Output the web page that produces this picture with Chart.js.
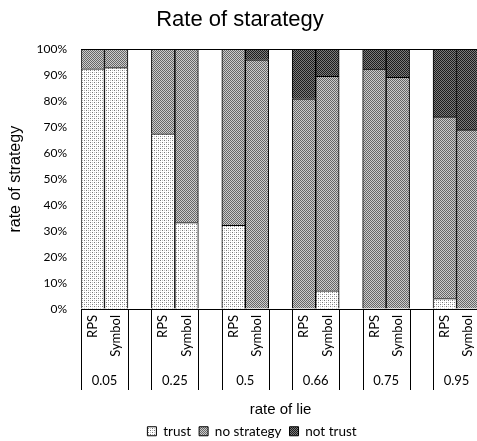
<!DOCTYPE html>
<html>
<head>
<meta charset="utf-8">
<script src="https://cdn.jsdelivr.net/npm/chart.js@4.4.1/dist/chart.umd.min.js"></script>
<style>
  html, body { margin: 0; padding: 0; background: #fff; overflow: hidden; }
  #wrap { width: 481px; height: 441px; }
</style>
</head>
<body>
<div id="wrap"><canvas id="strategyChart" width="481" height="441"></canvas></div>
<script>
// du lieu doc tu hinh
const rateOfLie = ["0.05", "0.25", "0.5", "0.66", "0.75", "0.95"];
const methods = ["RPS", "Symbol"];
// thu tu: RPS, Symbol cho moi muc rate of lie
const trustRate = [92.5, 93, 67.5, 33.3, 32.2, 0, 0, 7, 0, 0, 4, 0];
const noStrategyRate = [7.5, 7, 32.5, 66.7, 67.8, 96, 81, 82.6, 92.4, 89.2, 70, 69];
const notTrustRate = [0, 0, 0, 0, 0, 4, 19, 10.4, 7.6, 10.8, 26, 31];
const yTicks = [0, 10, 20, 30, 40, 50, 60, 70, 80, 90, 100];

// moi nhom: RPS, Symbol, roi mot cot trong (tru nhom cuoi)
const slotLabels = [];
const slotIndex = [];
rateOfLie.forEach((r, g) => {
  methods.forEach((m, k) => {
    slotLabels.push(m);
    slotIndex.push(g * 2 + k);
  });
  if (g < rateOfLie.length - 1) {
    slotLabels.push("");
    slotIndex.push(null);
  }
});
const toSlots = (arr) => slotIndex.map((i) => (i === null ? null : arr[i]));

// hoa van kieu Excel
function makePattern(bg, dots) {
  const c = document.createElement("canvas");
  c.width = 4;
  c.height = 4;
  const g = c.getContext("2d");
  g.fillStyle = bg;
  g.fillRect(0, 0, 4, 4);
  dots.forEach(([x, y, col]) => {
    g.fillStyle = col;
    g.fillRect(x, y, 1, 1);
  });
  return g.createPattern(c, "repeat");
}
const checker = (col) => [
  [0, 0, col], [2, 0, col], [1, 1, col], [3, 1, col],
  [0, 2, col], [2, 2, col], [1, 3, col], [3, 3, col],
];
const trustFill = makePattern("#ffffff", [
  [0, 0, "#777"], [2, 2, "#777"], [2, 0, "#c4c4c4"], [0, 2, "#c4c4c4"],
]);
const noStrategyFill = makePattern("#cccccc", checker("#666666"));
const notTrustFill = makePattern("#7c7c7c", checker("#1c1c1c"));

const LEGEND_PAD = 8;

// truc phan loai hai tang
const groupAxisPlugin = {
  id: "groupAxis",
  afterLayout(chart) {
    // dich chu thich nhu ban goc
    const lg = chart.legend;
    const h = lg.bottom - lg.top;
    lg.left += 12;
    lg.right += 12;
    lg.top = 431 - LEGEND_PAD - 6.5;
    lg.bottom = lg.top + h;
  },
  afterDraw(chart) {
    const x = chart.scales.x;
    const area = chart.chartArea;
    const ctx = chart.ctx;
    const half = (x.getPixelForValue(1) - x.getPixelForValue(0)) / 2;
    const top = area.bottom;
    const bottom = area.bottom + 81;
    ctx.save();
    ctx.strokeStyle = "#000";
    ctx.lineWidth = 1;
    ctx.fillStyle = "#000";
    ctx.font = "13px Lato";
    ctx.textAlign = "center";
    ctx.textBaseline = "middle";
    let slot = 0;
    rateOfLie.forEach((r) => {
      const left = x.getPixelForValue(slot) - half;
      const right = x.getPixelForValue(slot + 1) + half;
      [left, right].forEach((px) => {
        const p = Math.round(px) + 0.5;
        ctx.beginPath();
        ctx.moveTo(p, top);
        ctx.lineTo(p, bottom);
        ctx.stroke();
      });
      ctx.fillText(r, (left + right) / 2, area.bottom + 72);
      slot += 3;
    });
    ctx.restore();
  },
};

const ctx = document.getElementById("strategyChart");
new Chart(ctx.getContext("2d"), {
  type: "bar",
  data: {
    labels: slotLabels,
    datasets: [
      {
        label: "trust",
        data: toSlots(trustRate),
        backgroundColor: trustFill,
        borderColor: "#000",
        borderWidth: 1,
      },
      {
        label: "no strategy",
        data: toSlots(noStrategyRate),
        backgroundColor: noStrategyFill,
        borderColor: "#000",
        borderWidth: 1,
      },
      {
        label: "not trust",
        data: toSlots(notTrustRate),
        backgroundColor: notTrustFill,
        borderColor: "#000",
        borderWidth: 1,
      },
    ],
  },
  options: {
    responsive: false,
    animation: false,
    layout: { padding: { left: 0, right: 1, top: 0, bottom: 0 } },
    datasets: {
      bar: { barPercentage: 1, categoryPercentage: 1 },
    },
    plugins: {
      title: {
        display: true,
        text: "Rate of starategy",
        color: "#000",
        font: { family: "Liberation Sans", size: 22, weight: "normal" },
        padding: { top: 7, bottom: 16 },
      },
      legend: {
        position: "bottom",
        maxHeight: 22,
        labels: {
          color: "#000",
          boxWidth: 9,
          boxHeight: 9,
          padding: LEGEND_PAD,
          font: { family: "Lato", size: 13.5 },
        },
      },
      tooltip: { enabled: false },
    },
    scales: {
      x: {
        stacked: true,
        grid: { display: false, drawTicks: false },
        border: { display: true, color: "#000" },
        ticks: {
          color: "#000",
          font: { family: "Lato", size: 13 },
          minRotation: 90,
          maxRotation: 90,
          autoSkip: false,
          padding: 6,
        },
        title: {
          display: true,
          text: "rate of lie",
          color: "#000",
          font: { family: "Liberation Sans", size: 15 },
          padding: { top: 0, bottom: 0 },
        },
        afterFit(scale) {
          scale.height = 110;
          scale.paddingLeft = 0;
          scale.paddingRight = 0;
        },
      },
      y: {
        stacked: true,
        min: 0,
        max: 100,
        afterBuildTicks(scale) {
          scale.ticks = yTicks.map((v) => ({ value: v }));
        },
        grid: {
          drawTicks: false,
          color: (c) => (c.tick && c.tick.value === 100 ? "#000" : "rgba(0,0,0,0)"),
        },
        border: { display: false },
        ticks: {
          color: "#000",
          font: { family: "Lato", size: 12 },
          padding: 14,
          callback: (v) => v + "%",
        },
        title: {
          display: true,
          text: "rate of strategy",
          color: "#000",
          font: { family: "Liberation Sans", size: 16 },
          padding: { top: 6, bottom: 4 },
        },
        afterFit(scale) {
          scale.width = 81;
        },
      },
    },
  },
  plugins: [groupAxisPlugin],
});
</script>
</body>
</html>
